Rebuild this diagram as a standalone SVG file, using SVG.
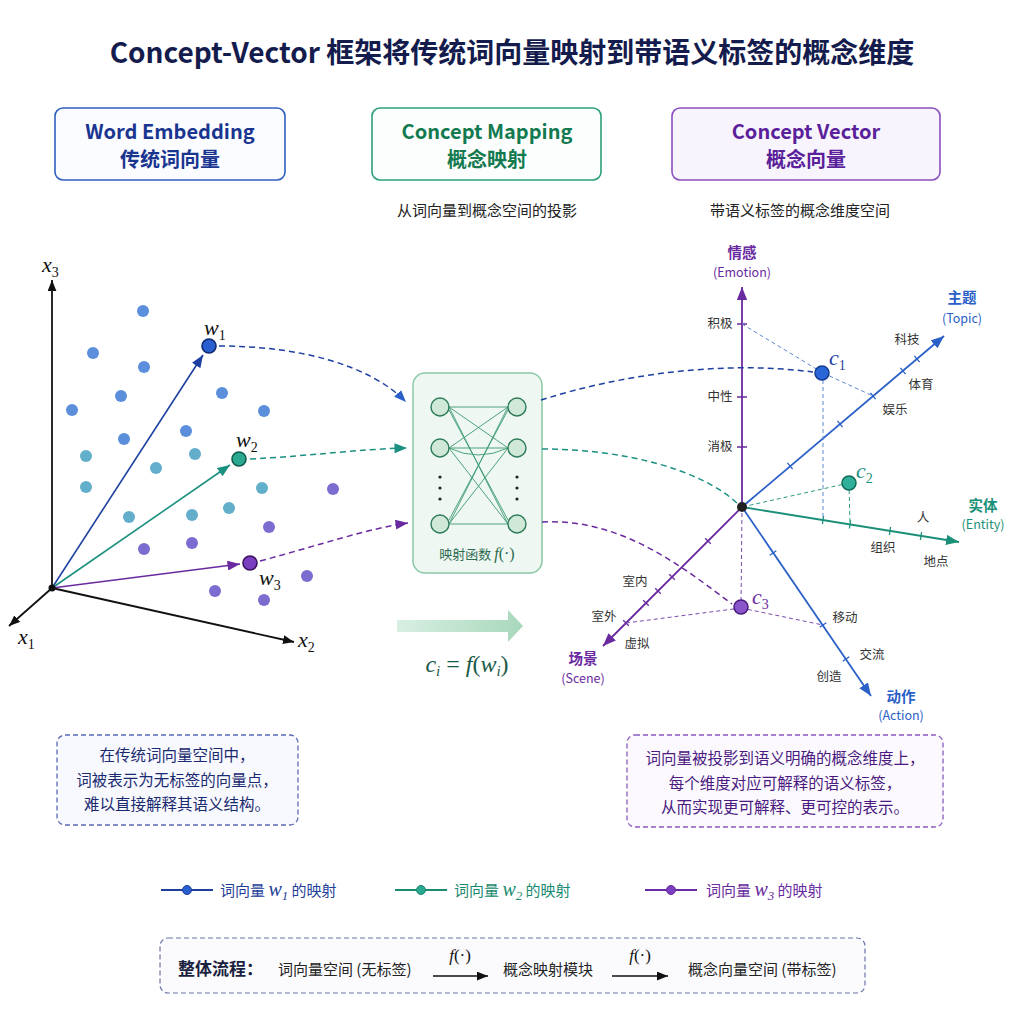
<svg xmlns="http://www.w3.org/2000/svg" width="1024" height="1024" viewBox="0 0 1024 1024">
<defs>
<style>
text { font-family: "Noto Sans CJK SC", "Noto Sans", sans-serif; }
.title { font-size:28px; font-weight:700; fill:#141b4d; text-anchor:middle; }
.hd { font-size:20px; font-weight:600; text-anchor:middle; }
.sub { font-size:15px; fill:#222; text-anchor:middle; }
.math { font-family:"Liberation Serif","DejaVu Serif",serif; font-style:italic; }
.tk { font-size:12.5px; fill:#333; text-anchor:middle; }
.axl { font-size:14.5px; font-weight:600; text-anchor:middle; }
.axe { font-size:12.5px; text-anchor:middle; }
.note { font-size:15.5px; text-anchor:middle; }
.leg { font-size:15px; }
.flow { font-size:15px; fill:#222; }
.db { fill:#5b8fdc; }
.dt { fill:#62aecb; }
.dp { fill:#7b6dd0; }
.ax { stroke:#111; stroke-width:1.8; fill:none; }
.tkl { stroke-width:1.3; fill:none; }
.nn { stroke:#3a9a70; stroke-width:0.9; fill:none; }
.neu { fill:#cfe8d8; stroke:#2c7a58; stroke-width:1.4; }
.prj { stroke-width:1; stroke-dasharray:4 3; fill:none; }
.cur { stroke-width:1.5; stroke-dasharray:6 4; fill:none; }
</style>
<marker id="mK" viewBox="0 0 10 8" refX="10" refY="4" markerWidth="11" markerHeight="9" markerUnits="userSpaceOnUse" orient="auto"><path d="M0,0 L10,4 L0,8 z" fill="#111"/></marker>
<marker id="mB" viewBox="0 0 10 8" refX="10" refY="4" markerWidth="13" markerHeight="10" markerUnits="userSpaceOnUse" orient="auto"><path d="M0,0 L10,4 L0,8 z" fill="#1d3fa0"/></marker>
<marker id="mG" viewBox="0 0 10 8" refX="10" refY="4" markerWidth="13" markerHeight="10" markerUnits="userSpaceOnUse" orient="auto"><path d="M0,0 L10,4 L0,8 z" fill="#1a9080"/></marker>
<marker id="mP" viewBox="0 0 10 8" refX="10" refY="4" markerWidth="13" markerHeight="10" markerUnits="userSpaceOnUse" orient="auto"><path d="M0,0 L10,4 L0,8 z" fill="#6a2aa0"/></marker>
<marker id="mB2" viewBox="0 0 10 8" refX="10" refY="4" markerWidth="12" markerHeight="10" markerUnits="userSpaceOnUse" orient="auto"><path d="M0,0 L10,4 L0,8 z" fill="#2a5fc8"/></marker>
<marker id="mA" viewBox="0 0 10 8" refX="10" refY="4" markerWidth="13" markerHeight="11" markerUnits="userSpaceOnUse" orient="auto"><path d="M0,0 L10,4 L0,8 z" fill="#2a60c8"/></marker>
<marker id="mAG" viewBox="0 0 10 8" refX="10" refY="4" markerWidth="13" markerHeight="11" markerUnits="userSpaceOnUse" orient="auto"><path d="M0,0 L10,4 L0,8 z" fill="#1a9078"/></marker>
<marker id="mAP" viewBox="0 0 10 8" refX="10" refY="4" markerWidth="13" markerHeight="11" markerUnits="userSpaceOnUse" orient="auto"><path d="M0,0 L10,4 L0,8 z" fill="#6a2aa0"/></marker>
<linearGradient id="gArr" x1="0" y1="0" x2="1" y2="0"><stop offset="0" stop-color="#d8efe2"/><stop offset="1" stop-color="#a8d8bc"/></linearGradient>
</defs>
<rect width="1024" height="1024" fill="#ffffff"/>

<text class="title" x="512" y="63">Concept-Vector 框架将传统词向量映射到带语义标签的概念维度</text>

<g id="hdr-word">
<rect x="55" y="108" width="230" height="72" rx="8" fill="#fbfcff" stroke="#2f5fc0" stroke-width="1.6"/>
<text class="hd" x="170" y="139" fill="#1a3590">Word Embedding</text>
<text class="hd" x="170" y="167" fill="#1a3590">传统词向量</text>
</g>
<g id="hdr-mapping">
<rect x="372" y="108" width="229" height="72" rx="8" fill="#fbfefc" stroke="#2aa078" stroke-width="1.6"/>
<text class="hd" x="487" y="139" fill="#137a50">Concept Mapping</text>
<text class="hd" x="487" y="167" fill="#137a50">概念映射</text>
<text class="sub" x="487" y="216">从词向量到概念空间的投影</text>
</g>
<g id="hdr-concept">
<rect x="672" y="108" width="268" height="72" rx="8" fill="#f8f4fd" stroke="#8a4fc0" stroke-width="1.6"/>
<text class="hd" x="806" y="139" fill="#5a1f9a">Concept Vector</text>
<text class="hd" x="806" y="167" fill="#5a1f9a">概念向量</text>
<text class="sub" x="800" y="216">带语义标签的概念维度空间</text>
</g>

<g id="word-space">
<line class="ax" x1="52" y1="588" x2="52" y2="280" marker-end="url(#mK)"/>
<line class="ax" x1="52" y1="588" x2="9" y2="626" marker-end="url(#mK)"/>
<line class="ax" x1="52" y1="588" x2="294" y2="642" marker-end="url(#mK)"/>
<text class="math" x="42" y="272" font-size="22" fill="#111">x<tspan dy="5" font-size="14" font-style="normal">3</tspan></text>
<text class="math" x="18" y="644" font-size="22" fill="#111">x<tspan dy="5" font-size="14" font-style="normal">1</tspan></text>
<text class="math" x="298" y="647" font-size="22" fill="#111">x<tspan dy="5" font-size="14" font-style="normal">2</tspan></text>
<circle class="db" cx="143" cy="311" r="6"/>
<circle class="db" cx="93" cy="353" r="6"/>
<circle class="db" cx="144" cy="367" r="6"/>
<circle class="db" cx="121" cy="396" r="6"/>
<circle class="db" cx="72" cy="410" r="6"/>
<circle class="db" cx="222" cy="393" r="6"/>
<circle class="db" cx="264" cy="411" r="6"/>
<circle class="db" cx="186" cy="431" r="6"/>
<circle class="db" cx="124" cy="439" r="6"/>
<circle class="dt" cx="86" cy="456" r="6"/>
<circle class="dt" cx="195" cy="454" r="6"/>
<circle class="dt" cx="156" cy="468" r="6"/>
<circle class="dt" cx="86" cy="487" r="6"/>
<circle class="dt" cx="262" cy="488" r="6"/>
<circle class="dt" cx="229" cy="508" r="6"/>
<circle class="dt" cx="129" cy="517" r="6"/>
<circle class="dt" cx="192" cy="515" r="6"/>
<circle class="dp" cx="333" cy="489" r="6"/>
<circle class="dp" cx="269" cy="527" r="6"/>
<circle class="dp" cx="144" cy="549" r="6"/>
<circle class="dp" cx="192" cy="543" r="6"/>
<circle class="dp" cx="307" cy="576" r="6"/>
<circle class="dp" cx="215" cy="591" r="6"/>
<circle class="dp" cx="264" cy="600" r="6"/>
<line x1="52" y1="588" x2="203" y2="355" stroke="#1d3fa0" stroke-width="1.6" marker-end="url(#mB)"/>
<line x1="52" y1="588" x2="230" y2="465" stroke="#1a9080" stroke-width="1.6" marker-end="url(#mG)"/>
<line x1="52" y1="588" x2="240" y2="564" stroke="#6a2aa0" stroke-width="1.6" marker-end="url(#mP)"/>
<circle cx="52" cy="588" r="3.5" fill="#111"/>
</g>
<g id="w1"><circle cx="209" cy="346" r="7" fill="#2a5fd0" stroke="#0f2a70" stroke-width="1.6"/>
<text class="math" x="204" y="335" font-size="22" fill="#111">w<tspan dy="5" font-size="14" font-style="normal">1</tspan></text></g>
<g id="w2"><circle cx="239" cy="459" r="7" fill="#2aa890" stroke="#0f5a4a" stroke-width="1.6"/>
<text class="math" x="236" y="447" font-size="22" fill="#111">w<tspan dy="5" font-size="14" font-style="normal">2</tspan></text></g>
<g id="w3"><circle cx="250" cy="563" r="7" fill="#7a3fc0" stroke="#3a1060" stroke-width="1.6"/>
<text class="math" x="259" y="585" font-size="22" fill="#111">w<tspan dy="5" font-size="14" font-style="normal">3</tspan></text></g>

<g id="mapping-module">
<rect x="413" y="373" width="129" height="200" rx="12" fill="#eef7f1" stroke="#8ac8a5" stroke-width="1.5"/>
<path class="nn" d="M449,407 L508,407 M449,407 L508,448 M449,407 L508,524 M449,448 L508,407 M449,448 L508,448 M449,448 L508,524 M449,524 L508,407 M449,524 L508,448 M449,524 L508,524 M449,448 Q478,462 508,448 M449,410 L508,520 M449,520 L508,410"/>
<circle class="neu" cx="440" cy="407" r="9"/>
<circle class="neu" cx="440" cy="448" r="9"/>
<circle class="neu" cx="440" cy="524" r="9"/>
<circle class="neu" cx="517" cy="407" r="9"/>
<circle class="neu" cx="517" cy="448" r="9"/>
<circle class="neu" cx="517" cy="524" r="9"/>
<g fill="#222"><circle cx="440" cy="477" r="1.6"/><circle cx="440" cy="488" r="1.6"/><circle cx="440" cy="499" r="1.6"/><circle cx="517" cy="477" r="1.6"/><circle cx="517" cy="488" r="1.6"/><circle cx="517" cy="499" r="1.6"/></g>
<text x="477" y="559" font-size="13" fill="#2c6a50" text-anchor="middle">映射函数 <tspan class="math" font-size="16">f</tspan><tspan font-family="Liberation Serif, serif" font-size="16">(·)</tspan></text>
</g>

<g id="formula">
<polygon points="397,620 508,620 508,610 523,626 508,642 508,632 397,632" fill="url(#gArr)"/>
<text class="math" x="467" y="672" font-size="24" fill="#1a5a48" text-anchor="middle">c<tspan dy="4" font-size="15">i</tspan><tspan dy="-4" font-style="normal"> = </tspan>f<tspan font-style="normal">(</tspan>w<tspan dy="4" font-size="15">i</tspan><tspan dy="-4" font-style="normal">)</tspan></text>
</g>

<g id="concept-space">
<line x1="742" y1="507" x2="742" y2="287" stroke="#6a2aa0" stroke-width="1.8" marker-end="url(#mAP)"/>
<line x1="742" y1="507" x2="944" y2="336" stroke="#2a60c8" stroke-width="1.8" marker-end="url(#mA)"/>
<line x1="742" y1="507" x2="959" y2="542" stroke="#1a9078" stroke-width="1.8" marker-end="url(#mAG)"/>
<line x1="742" y1="507" x2="871" y2="696" stroke="#2a60c8" stroke-width="1.8" marker-end="url(#mA)"/>
<line x1="742" y1="507" x2="603" y2="646" stroke="#6a2aa0" stroke-width="1.8" marker-end="url(#mAP)"/>
<path class="tkl" stroke="#6a2aa0" d="M737,324 H747 M737,397 H747 M737,447 H747"/>
<path class="tkl" stroke="#2a60c8" d="M914.4,355.9 L919.6,362.1 M900.4,367.9 L905.6,374.1 M870.4,392.9 L875.6,399.1 M837.4,420.9 L842.6,427.1 M787.4,462.9 L792.6,469.1"/>
<path class="tkl" stroke="#1a9078" d="M823.6,516 L822.4,524 M850.6,520.5 L849.4,528.5 M890.6,527 L889.4,535 M921.6,532 L920.4,540"/>
<path class="tkl" stroke="#2a60c8" d="M769.7,555.3 L776.3,550.7 M819.7,627.3 L826.3,622.7 M842.7,661.3 L849.3,656.7"/>
<path class="tkl" stroke="#6a2aa0" d="M705.2,538.2 L710.8,543.8 M669.2,574.2 L674.8,579.8 M655.2,588.2 L660.8,593.8 M643.2,600.2 L648.8,605.8 M623.2,620.2 L628.8,625.8"/>
<text class="axl" x="742" y="258" fill="#6a2aa0">情感</text>
<text class="axe" x="742" y="277" fill="#6a2aa0">(Emotion)</text>
<text class="axl" x="962" y="303" fill="#2a60c8">主题</text>
<text class="axe" x="962" y="323" fill="#2a60c8">(Topic)</text>
<text class="axl" x="983" y="511" fill="#1a9078">实体</text>
<text class="axe" x="983" y="529" fill="#1a9078">(Entity)</text>
<text class="axl" x="901" y="702" fill="#2a60c8">动作</text>
<text class="axe" x="901" y="720" fill="#2a60c8">(Action)</text>
<text class="axl" x="583" y="664" fill="#6a2aa0">场景</text>
<text class="axe" x="583" y="683" fill="#6a2aa0">(Scene)</text>
<text class="tk" x="720" y="328">积极</text>
<text class="tk" x="720" y="401">中性</text>
<text class="tk" x="720" y="451">消极</text>
<text class="tk" x="907" y="344">科技</text>
<text class="tk" x="921" y="389">体育</text>
<text class="tk" x="895" y="414">娱乐</text>
<text class="tk" x="923" y="522">人</text>
<text class="tk" x="883" y="552">组织</text>
<text class="tk" x="936" y="566">地点</text>
<text class="tk" x="845" y="622">移动</text>
<text class="tk" x="872" y="659">交流</text>
<text class="tk" x="829" y="681">创造</text>
<text class="tk" x="635" y="586">室内</text>
<text class="tk" x="604" y="621">室外</text>
<text class="tk" x="637" y="648">虚拟</text>
<path class="prj" stroke="#5a86d0" d="M823,373 L742,324 M823,373 L873,396 M823,373 L823,520"/>
<path class="prj" stroke="#2a9a80" d="M849,483 L742,507 M849,483 L850,524"/>
<path class="prj" stroke="#7a4ab0" d="M741,608 L742,507 M741,608 L626,623 M741,608 L823,625"/>
<circle cx="742" cy="507" r="5" fill="#222"/>
</g>
<g id="c1"><circle cx="822" cy="373" r="7" fill="#2a66d8" stroke="#123a90" stroke-width="1.5"/>
<text class="math" x="829" y="365" font-size="22" fill="#1d3fa0">c<tspan dy="5" font-size="14" font-style="normal">1</tspan></text></g>
<g id="c2"><circle cx="849" cy="483" r="7" fill="#30b09a" stroke="#0f6a58" stroke-width="1.5"/>
<text class="math" x="856" y="478" font-size="22" fill="#1a9080">c<tspan dy="5" font-size="14" font-style="normal">2</tspan></text></g>
<g id="c3"><circle cx="741" cy="607" r="7" fill="#8a55c8" stroke="#4a1a80" stroke-width="1.5"/>
<text class="math" x="752" y="604" font-size="22" fill="#6a2aa0">c<tspan dy="5" font-size="14" font-style="normal">3</tspan></text></g>

<g id="connectors">
<path class="cur" stroke="#1d3fa0" d="M219,346 C300,346 370,365 406,402" marker-end="url(#mB2)"/>
<path class="cur" stroke="#1a9080" d="M250,459 C310,456 360,449 407,448" marker-end="url(#mG)"/>
<path class="cur" stroke="#6a2aa0" d="M260,561 C320,545 370,528 408,523" marker-end="url(#mP)"/>
<path class="cur" stroke="#1d3fa0" d="M541,400 C620,375 720,360 813,372"/>
<path class="cur" stroke="#1a9080" d="M542,449 C620,449 700,468 738,504"/>
<path class="cur" stroke="#6a2aa0" d="M542,522 C620,518 680,565 732,604"/>
</g>

<g id="note-left">
<rect x="57" y="735" width="241" height="90" rx="8" fill="#f8f9fe" stroke="#5a68b0" stroke-width="1.3" stroke-dasharray="5 3"/>
<text class="note" x="177" y="761" fill="#1a2a70">在传统词向量空间中，</text>
<text class="note" x="177" y="786" fill="#1a2a70">词被表示为无标签的向量点，</text>
<text class="note" x="177" y="810" fill="#1a2a70">难以直接解释其语义结构。</text>
</g>
<g id="note-right">
<rect x="627" y="735" width="316" height="92" rx="8" fill="#fbf8fe" stroke="#8a5ac0" stroke-width="1.3" stroke-dasharray="5 3"/>
<text class="note" x="785" y="764" fill="#4a1a80">词向量被投影到语义明确的概念维度上，</text>
<text class="note" x="785" y="789" fill="#4a1a80">每个维度对应可解释的语义标签，</text>
<text class="note" x="785" y="813" fill="#4a1a80">从而实现更可解释、更可控的表示。</text>
</g>

<g id="legend">
<line x1="161" y1="890" x2="213" y2="890" stroke="#1f3f9a" stroke-width="1.8"/><circle cx="187" cy="890" r="4.5" fill="#2a5fd0" stroke="#1f3f9a"/>
<text class="leg" x="220" y="896" fill="#1f3f9a">词向量 <tspan class="math" font-size="20">w</tspan><tspan class="math" font-style="normal" font-size="13" dy="4">1</tspan><tspan dy="-4"> 的映射</tspan></text>
<line x1="395" y1="890" x2="447" y2="890" stroke="#1a8a70" stroke-width="1.8"/><circle cx="421" cy="890" r="4.5" fill="#2aa890" stroke="#1a8a70"/>
<text class="leg" x="454" y="896" fill="#1a8a70">词向量 <tspan class="math" font-size="20">w</tspan><tspan class="math" font-style="normal" font-size="13" dy="4">2</tspan><tspan dy="-4"> 的映射</tspan></text>
<line x1="645" y1="890" x2="697" y2="890" stroke="#6a2aa0" stroke-width="1.8"/><circle cx="671" cy="890" r="4.5" fill="#7a3fc0" stroke="#6a2aa0"/>
<text class="leg" x="706" y="896" fill="#6a2aa0">词向量 <tspan class="math" font-size="20">w</tspan><tspan class="math" font-style="normal" font-size="13" dy="4">3</tspan><tspan dy="-4"> 的映射</tspan></text>
</g>

<g id="flow">
<rect x="160" y="938" width="705" height="55" rx="8" fill="#fbfbfe" stroke="#6a74a8" stroke-width="1.2" stroke-dasharray="5 3"/>
<text x="178" y="975" font-size="17" font-weight="700" fill="#1a1f40">整体流程：</text>
<text class="flow" x="278" y="975">词向量空间 (无标签)</text>
<line x1="433" y1="976" x2="488" y2="976" stroke="#111" stroke-width="1.5" marker-end="url(#mK)"/>
<text class="math" x="460" y="961" font-size="17" fill="#111" text-anchor="middle">f<tspan font-style="normal">(·)</tspan></text>
<text class="flow" x="503" y="975">概念映射模块</text>
<line x1="612" y1="976" x2="668" y2="976" stroke="#111" stroke-width="1.5" marker-end="url(#mK)"/>
<text class="math" x="640" y="961" font-size="17" fill="#111" text-anchor="middle">f<tspan font-style="normal">(·)</tspan></text>
<text class="flow" x="688" y="975">概念向量空间 (带标签)</text>
</g>
</svg>
